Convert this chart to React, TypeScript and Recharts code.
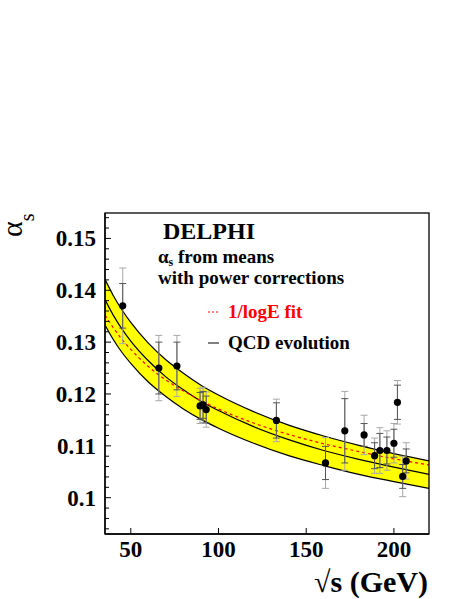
import React from "react";
import {
  ComposedChart,
  Area,
  Line,
  Scatter,
  ErrorBar,
  XAxis,
  YAxis,
} from "recharts";

// DELPHI measurements: sqrt(s) in GeV, alpha_s, total and inner (stat) errors
const energies = [45.4, 66, 76.3, 89.5, 91.2, 93, 133, 161, 172, 183, 189, 192, 196, 200, 202, 205, 207];
const alphaS = [0.137, 0.125, 0.1254, 0.1177, 0.1179, 0.117, 0.1149, 0.1067, 0.1129, 0.1121, 0.1081, 0.1091, 0.1091, 0.1105, 0.1184, 0.1041, 0.1071];
const totErr = [0.0073, 0.0063, 0.0059, 0.0034, 0.0034, 0.0034, 0.0041, 0.0049, 0.0076, 0.0038, 0.0034, 0.0044, 0.0038, 0.0038, 0.0042, 0.0039, 0.0035];
const statErr = [0.0043, 0.005, 0.0046, 0.0026, 0.0026, 0.0026, 0.0034, 0.0032, 0.0062, 0.0022, 0.0025, 0.0033, 0.0026, 0.0027, 0.0033, 0.0023, 0.0023];

// curves
const curveE = [35.3, 40, 45, 50, 60, 70, 80, 90, 100, 120, 140, 160, 180, 200, 220];
const qcdCentral = [0.1382, 0.1352, 0.1325, 0.1302, 0.1264, 0.1233, 0.1208, 0.1186, 0.1168, 0.1137, 0.1112, 0.1091, 0.1074, 0.1059, 0.1045];
const qcdUpper = [0.1421, 0.139, 0.1362, 0.1338, 0.1298, 0.1266, 0.124, 0.1217, 0.1198, 0.1166, 0.114, 0.1119, 0.1101, 0.1085, 0.1071];
const qcdLower = [0.1333, 0.1305, 0.128, 0.1259, 0.1223, 0.1195, 0.1171, 0.1151, 0.1134, 0.1105, 0.1081, 0.1062, 0.1045, 0.1031, 0.1018];
const logFit = [0.1352, 0.1328, 0.1305, 0.1286, 0.1253, 0.1227, 0.1206, 0.1187, 0.1171, 0.1144, 0.1122, 0.1104, 0.1089, 0.1075, 0.1063];

const xTicks = [50, 100, 150, 200];
const yTicks = [
  0.094, 0.096, 0.098, 0.1, 0.102, 0.104, 0.106, 0.108, 0.11, 0.112, 0.114, 0.116,
  0.118, 0.12, 0.122, 0.124, 0.126, 0.128, 0.13, 0.132, 0.134, 0.136, 0.138, 0.14,
  0.142, 0.144, 0.146, 0.148, 0.15, 0.152, 0.154,
];

const points = energies.map((x, i) => ({ x, y: alphaS[i], errTot: totErr[i], errStat: statErr[i] }));
const curves = curveE.map((x, i) => ({
  x,
  band: [qcdLower[i], qcdUpper[i]],
  upper: qcdUpper[i],
  lower: qcdLower[i],
  central: qcdCentral[i],
  fit: logFit[i],
}));

const font = "'Liberation Serif', 'Times New Roman', serif";

// plot frame in page pixels
const PLOT_LEFT = 105;
const PLOT_BOTTOM = 534;

function YTick(props: any) {
  const { y, payload } = props;
  const x = PLOT_LEFT;
  const v = payload.value as number;
  const major = Math.abs(v * 100 - Math.round(v * 100)) < 1e-6;
  return (
    <g>
      <line x1={x} x2={x + (major ? 6 : 4)} y1={y} y2={y} stroke="#000" strokeWidth={1} />
      {major && (
        <text x={x - 9} y={y} dy="0.34em" textAnchor="end" fontFamily={font} fontWeight="bold" fontSize={23} fill="#000">
          {String(Number(v.toFixed(2)))}
        </text>
      )}
    </g>
  );
}

function XTick(props: any) {
  const { x, payload } = props;
  const y = PLOT_BOTTOM;
  return (
    <g>
      <line x1={x} x2={x} y1={y} y2={y - 6} stroke="#000" strokeWidth={1} />
      <text x={x} y={y + 23} textAnchor="middle" fontFamily={font} fontWeight="bold" fontSize={23} fill="#000">
        {payload.value}
      </text>
    </g>
  );
}

const Dot = (p: any) => <circle cx={p.cx} cy={p.cy} r={3.6} fill="#000" />;

export default function App() {
  return (
    <div style={{ position: "absolute", left: 0, top: 0, width: 463, height: 599, background: "#fff" }}>
      <ComposedChart
        width={463}
        height={599}
        margin={{ top: 213, right: 34, bottom: 35, left: 45 }}
      >
        <XAxis
          type="number"
          dataKey="x"
          domain={[35.3, 220]}
          allowDataOverflow
          ticks={xTicks}
          interval={0}
          tick={(p: any) => <XTick {...p} />}
          height={30}
          axisLine={{ stroke: "#000", strokeWidth: 1.3 }}
          tickLine={false}
        />
        <YAxis
          type="number"
          dataKey="y"
          domain={[0.093, 0.1549]}
          allowDataOverflow
          ticks={yTicks}
          interval={0}
          tick={(p: any) => <YTick {...p} />}
          width={60}
          axisLine={{ stroke: "#000", strokeWidth: 1.3 }}
          tickLine={false}
        />
        <Area
          data={curves}
          dataKey="band"
          type="monotone"
          stroke="none"
          fill="#ffff00"
          fillOpacity={1}
          isAnimationActive={false}
          activeDot={false}
        />
        <Line data={curves} dataKey="upper" type="monotone" stroke="#000" strokeWidth={1.2} dot={false} activeDot={false} isAnimationActive={false} />
        <Line data={curves} dataKey="lower" type="monotone" stroke="#000" strokeWidth={1.2} dot={false} activeDot={false} isAnimationActive={false} />
        <Line data={curves} dataKey="central" type="monotone" stroke="#000" strokeWidth={1.2} dot={false} activeDot={false} isAnimationActive={false} />
        <Line
          data={curves}
          dataKey="fit"
          type="monotone"
          stroke="#ff0000"
          strokeWidth={1.2}
          strokeDasharray="3 3"
          dot={false}
          activeDot={false}
          isAnimationActive={false}
        />
        <Scatter data={points} dataKey="y" shape={Dot} isAnimationActive={false}>
          <ErrorBar dataKey="errTot" direction="y" width={3.5} stroke="#a8a8a8" strokeWidth={1} isAnimationActive={false} />
          <ErrorBar dataKey="errStat" direction="y" width={3.5} stroke="#555" strokeWidth={1} isAnimationActive={false} />
        </Scatter>
      </ComposedChart>
      <svg
        width={463}
        height={599}
        style={{ position: "absolute", left: 0, top: 0, pointerEvents: "none" }}
        fontFamily={font}
        fontWeight="bold"
      >
        <rect x={105} y={213} width={324} height={321} fill="none" stroke="#000" strokeWidth={1.3} />
        <text x={163} y={239} fontSize={24}>DELPHI</text>
        <text x={158} y={263} fontSize={19}>
          α<tspan fontSize={12} dy={3}>s</tspan>
          <tspan dy={-3}> from means</tspan>
        </text>
        <text x={158} y={284} fontSize={19}>with power corrections</text>
        <line x1={208} x2={219} y1={312} y2={312} stroke="#ff0000" strokeWidth={1} strokeDasharray="2 2" />
        <text x={228} y={318} fontSize={19} fill="#ff0000">1/logE fit</text>
        <line x1={208} x2={219} y1={343} y2={343} stroke="#000" strokeWidth={1} />
        <text x={228} y={349} fontSize={19}>QCD evolution</text>
        <text x={428} y={592} fontSize={30} textAnchor="end">√s (GeV)</text>
        <text transform="translate(22,237) rotate(-90)" fontSize={30} fontWeight="normal">
          α<tspan fontSize={20} dy={12}>s</tspan>
        </text>
      </svg>
    </div>
  );
}
